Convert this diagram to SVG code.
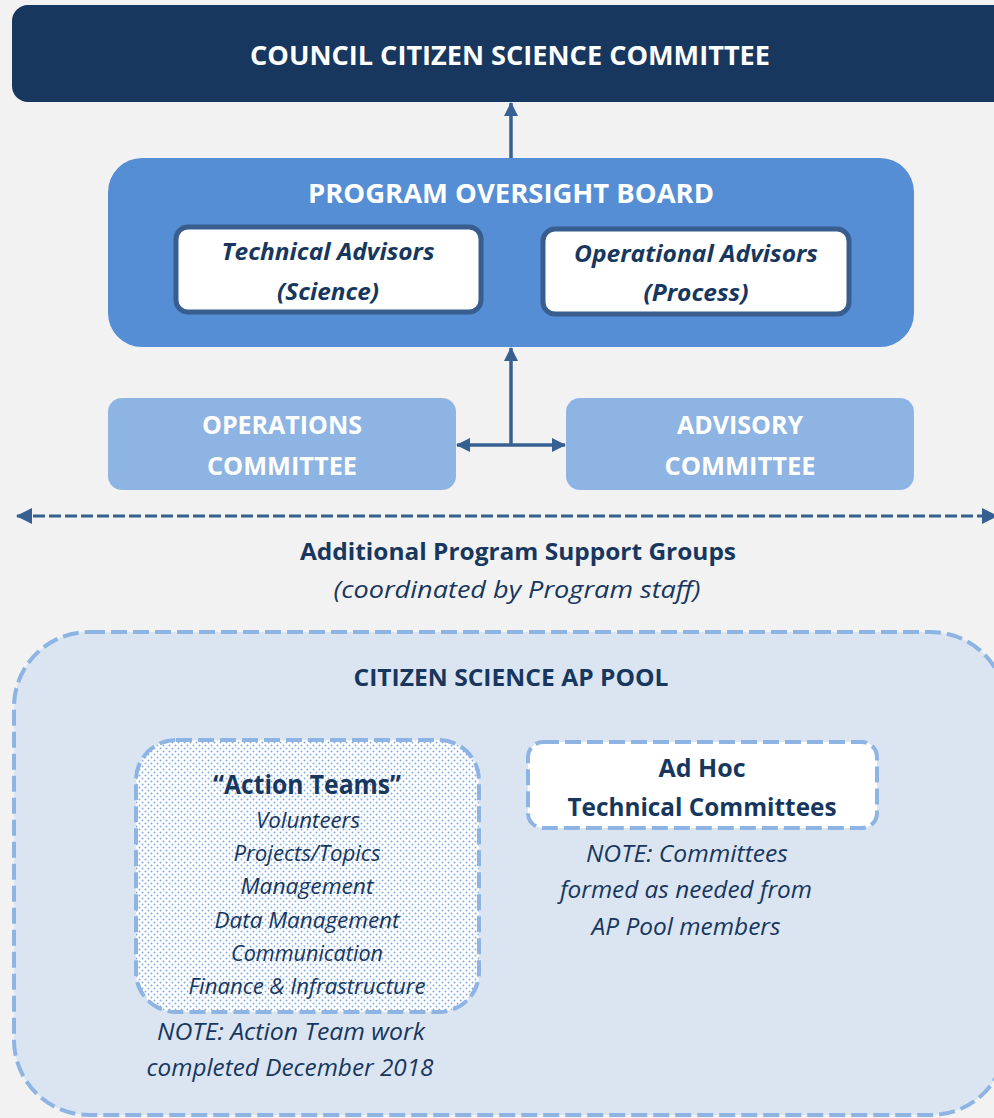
<svg xmlns="http://www.w3.org/2000/svg" width="994" height="1118" viewBox="0 0 994 1118">
<style>
text{font-family:"Open Sans","Noto Sans","Liberation Sans",sans-serif;text-anchor:middle}
.w{fill:#ffffff;font-weight:700}
.n{fill:#17375e}
.b{font-weight:700}
.i{font-style:italic}
.conn{stroke:#376092;stroke-width:3.5;fill:none}
.dash{stroke:#376092;stroke-width:3;fill:none;stroke-dasharray:12 4}
.pd{fill:none;stroke:#8eb4e3;stroke-width:4;stroke-dasharray:16 6}
</style>
<defs>
<marker id="ah" viewBox="0 0 14 14" refX="13" refY="7" markerWidth="14" markerHeight="14" markerUnits="userSpaceOnUse" orient="auto-start-reverse">
<path d="M0,0 L14,7 L0,14 Z" fill="#376092"/>
</marker>
<marker id="ah2" viewBox="0 0 16 16" refX="15" refY="8" markerWidth="16" markerHeight="16" markerUnits="userSpaceOnUse" orient="auto-start-reverse">
<path d="M0,0 L16,8 L0,16 Z" fill="#376092"/>
</marker>
<pattern id="dots" width="6" height="6" patternUnits="userSpaceOnUse">
<rect width="6" height="6" fill="#ffffff"/>
<circle cx="1.5" cy="1.5" r="0.95" fill="#7ea9e1"/>
<circle cx="4.5" cy="4.5" r="0.95" fill="#7ea9e1"/>
</pattern>
</defs>
<rect width="994" height="1118" fill="#f2f2f2"/>

<g id="connectors">
<line class="conn" x1="511" y1="158" x2="511" y2="103" marker-end="url(#ah)"/>
<line class="conn" x1="511" y1="445" x2="511" y2="348" marker-end="url(#ah)"/>
<line class="conn" x1="457" y1="445" x2="565" y2="445" marker-start="url(#ah)" marker-end="url(#ah)"/>
<line class="dash" x1="17" y1="516" x2="997" y2="516" marker-start="url(#ah2)" marker-end="url(#ah2)"/>
</g>

<g id="council">
<rect x="12" y="5" width="1000" height="97" rx="16" fill="#17375e"/>
<text class="w" x="510" y="65" font-size="27" textLength="520" lengthAdjust="spacingAndGlyphs">COUNCIL CITIZEN SCIENCE COMMITTEE</text>
</g>

<g id="oversight">
<rect x="108" y="158" width="806" height="189" rx="34" fill="#558ed5"/>
<text class="w" x="511" y="203" font-size="27" textLength="406" lengthAdjust="spacingAndGlyphs">PROGRAM OVERSIGHT BOARD</text>
</g>

<g id="technical">
<rect x="176" y="227" width="305" height="85" rx="12" fill="#ffffff" stroke="#375e8f" stroke-width="5"/>
<text class="n b i" x="328" y="260" font-size="24" textLength="213" lengthAdjust="spacingAndGlyphs">Technical Advisors</text>
<text class="n b i" x="328" y="300" font-size="24" textLength="102" lengthAdjust="spacingAndGlyphs">(Science)</text>
</g>

<g id="operational">
<rect x="543" y="229" width="306" height="85" rx="12" fill="#ffffff" stroke="#375e8f" stroke-width="5"/>
<text class="n b i" x="696" y="262" font-size="24" textLength="244" lengthAdjust="spacingAndGlyphs">Operational Advisors</text>
<text class="n b i" x="696" y="301" font-size="24" textLength="105" lengthAdjust="spacingAndGlyphs">(Process)</text>
</g>

<g id="operations">
<rect x="108" y="398" width="348" height="92" rx="14" fill="#8eb4e3"/>
<text class="w" x="282" y="434" font-size="25" textLength="160" lengthAdjust="spacingAndGlyphs">OPERATIONS</text>
<text class="w" x="282" y="475" font-size="25" textLength="150" lengthAdjust="spacingAndGlyphs">COMMITTEE</text>
</g>

<g id="advisory">
<rect x="566" y="398" width="348" height="92" rx="14" fill="#8eb4e3"/>
<text class="w" x="740" y="434" font-size="25" textLength="126" lengthAdjust="spacingAndGlyphs">ADVISORY</text>
<text class="w" x="740" y="475" font-size="25" textLength="151" lengthAdjust="spacingAndGlyphs">COMMITTEE</text>
</g>

<g id="support">
<text class="n b" x="518" y="560" font-size="24" textLength="436" lengthAdjust="spacingAndGlyphs">Additional Program Support Groups</text>
<text class="n i" x="517" y="598" font-size="24" textLength="367" lengthAdjust="spacingAndGlyphs">(coordinated by Program staff)</text>
</g>

<g id="appool">
<rect x="14" y="632" width="992" height="483" rx="75" fill="#dbe5f1"/>
<rect class="pd" x="14" y="632" width="992" height="483" rx="75"/>
<text class="n b" x="511" y="686" font-size="23" textLength="315" lengthAdjust="spacingAndGlyphs">CITIZEN SCIENCE AP POOL</text>
</g>

<g id="actionteams">
<rect x="136" y="740" width="343" height="272" rx="40" fill="url(#dots)"/>
<rect class="pd" x="136" y="740" width="343" height="272" rx="40"/>
<text class="n b" x="307" y="794" font-size="27" textLength="188" lengthAdjust="spacingAndGlyphs">“Action Teams”</text>
<text class="n i" x="308" y="828" font-size="21" textLength="104" lengthAdjust="spacingAndGlyphs">Volunteers</text>
<text class="n i" x="307" y="861" font-size="21" textLength="147" lengthAdjust="spacingAndGlyphs">Projects/Topics</text>
<text class="n i" x="307" y="894" font-size="21" textLength="133" lengthAdjust="spacingAndGlyphs">Management</text>
<text class="n i" x="307" y="928" font-size="21" textLength="185" lengthAdjust="spacingAndGlyphs">Data Management</text>
<text class="n i" x="307" y="961" font-size="21" textLength="152" lengthAdjust="spacingAndGlyphs">Communication</text>
<text class="n i" x="307" y="994" font-size="21" textLength="237" lengthAdjust="spacingAndGlyphs">Finance &amp; Infrastructure</text>
<text class="n i" x="291" y="1040" font-size="23" textLength="268" lengthAdjust="spacingAndGlyphs">NOTE: Action Team work</text>
<text class="n i" x="290" y="1076" font-size="23" textLength="287" lengthAdjust="spacingAndGlyphs">completed December 2018</text>
</g>

<g id="adhoc">
<rect x="528" y="742" width="349" height="86" rx="15" fill="#ffffff"/>
<rect class="pd" x="528" y="742" width="349" height="86" rx="15"/>
<text class="n b" x="702" y="777" font-size="25" textLength="87" lengthAdjust="spacingAndGlyphs">Ad Hoc</text>
<text class="n b" x="702" y="816" font-size="25" textLength="269" lengthAdjust="spacingAndGlyphs">Technical Committees</text>
<text class="n i" x="687" y="862" font-size="23" textLength="202" lengthAdjust="spacingAndGlyphs">NOTE: Committees</text>
<text class="n i" x="686" y="898" font-size="23" textLength="252" lengthAdjust="spacingAndGlyphs">formed as needed from</text>
<text class="n i" x="686" y="935" font-size="23" textLength="189" lengthAdjust="spacingAndGlyphs">AP Pool members</text>
</g>
</svg>
